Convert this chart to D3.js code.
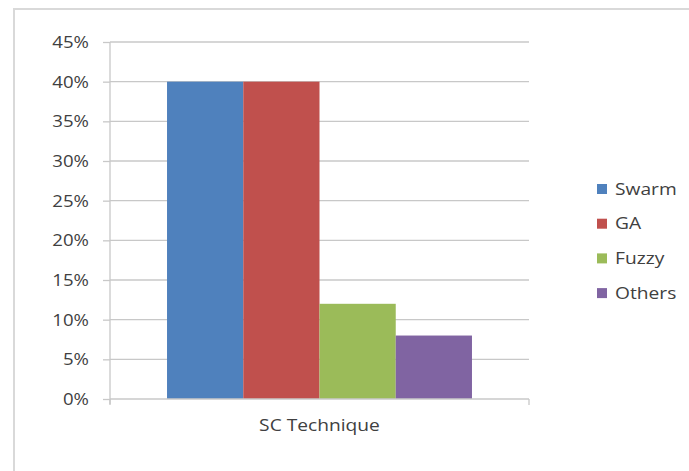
<!DOCTYPE html>
<html>
<head>
<meta charset="utf-8">
<script src="https://cdn.jsdelivr.net/npm/d3@7"></script>
<style>
  body { margin: 0; background: #fff; }
  text { font-family: "Open Sans", sans-serif; fill: #404040; }
</style>
</head>
<body>
<div id="chart"></div>
<script>
// Data
const category = "SC Technique";
const seriesNames = ["Swarm", "GA", "Fuzzy", "Others"];
const seriesValues = [0.40, 0.40, 0.12, 0.08];
const seriesColors = ["#4f81bd", "#c0504d", "#9bbb59", "#8064a2"];
const yTicks = [0, 0.05, 0.10, 0.15, 0.20, 0.25, 0.30, 0.35, 0.40, 0.45];

const width = 689, height = 471;
const margin = { top: 42, right: 160, bottom: 72, left: 110 };
const plotWidth = 529 - margin.left;
const plotHeight = 399 - margin.top;
// the screenshot is stretched sideways a bit, so the text is too
const stretch = 1.2;

const svg = d3.select("#chart").append("svg")
    .attr("width", width)
    .attr("height", height);

// chart frame (runs off the right and bottom edges like the screenshot)
svg.append("rect")
    .attr("x", 14).attr("y", 9)
    .attr("width", 700).attr("height", 500)
    .attr("fill", "none")
    .attr("stroke", "#d9d9d9")
    .attr("stroke-width", 2);

const g = svg.append("g")
    .attr("transform", `translate(${margin.left},${margin.top})`);

const x0 = d3.scaleBand()
    .domain([category])
    .range([0, plotWidth])
    .paddingInner(0)
    .paddingOuter(0.187);

const x1 = d3.scaleBand()
    .domain(seriesNames)
    .range([0, x0.bandwidth()]);

const y = d3.scaleLinear()
    .domain([0, 0.45])
    .range([plotHeight, 0]);

// gridlines
g.append("g")
    .selectAll("line")
    .data(yTicks.slice(1))
    .join("line")
    .attr("x1", 0).attr("x2", plotWidth)
    .attr("y1", d => y(d)).attr("y2", d => y(d))
    .attr("stroke", "#c8c8c8")
    .attr("stroke-width", 1.3);

// bars
g.append("g")
    .selectAll("rect")
    .data(seriesNames)
    .join("rect")
    .attr("x", d => x0(category) + x1(d))
    .attr("y", (d, i) => y(seriesValues[i]))
    .attr("width", x1.bandwidth())
    .attr("height", (d, i) => plotHeight - y(seriesValues[i]))
    .attr("fill", (d, i) => seriesColors[i]);

// y axis
const yAxis = g.append("g")
    .call(d3.axisLeft(y).tickValues(yTicks).tickFormat(d3.format(".0%")).tickSize(7));
yAxis.select(".domain").attr("stroke", "#c8c8c8").attr("stroke-width", 1.3)
    .attr("d", `M0,0V${plotHeight + 5}`);
yAxis.selectAll(".tick line").attr("stroke", "#c8c8c8").attr("stroke-width", 1.3);
yAxis.selectAll("text")
    .attr("x", -21 / stretch)
    .attr("dy", "0.36em")
    .attr("transform", `scale(${stretch},1)`)
    .style("font-size", "15.5px")
    .attr("fill", "#404040");

// x axis
const xAxis = g.append("g")
    .attr("transform", `translate(0,${plotHeight})`);
xAxis.append("line")
    .attr("x1", 0).attr("x2", plotWidth)
    .attr("stroke", "#c8c8c8").attr("stroke-width", 1.3);
xAxis.selectAll(".edge")
    .data([0, plotWidth])
    .join("line")
    .attr("class", "edge")
    .attr("x1", d => d).attr("x2", d => d)
    .attr("y1", 0).attr("y2", 6)
    .attr("stroke", "#c8c8c8").attr("stroke-width", 1.3);
xAxis.append("text")
    .attr("transform", `translate(${x0(category) + x0.bandwidth() / 2},26) scale(${stretch},1)`)
    .attr("dy", "0.36em")
    .attr("text-anchor", "middle")
    .style("font-size", "16px")
    .text(category);

// legend
const legend = svg.append("g")
    .attr("transform", "translate(597,189)");
const row = legend.selectAll("g")
    .data(seriesNames)
    .join("g")
    .attr("transform", (d, i) => `translate(0,${i * 34.7})`);
row.append("rect")
    .attr("x", 0).attr("y", -5)
    .attr("width", 10).attr("height", 10)
    .attr("fill", (d, i) => seriesColors[i]);
row.append("text")
    .attr("transform", `translate(18,0) scale(${stretch},1)`)
    .attr("dy", "0.36em")
    .style("font-size", "16px")
    .text(d => d);
</script>
</body>
</html>
